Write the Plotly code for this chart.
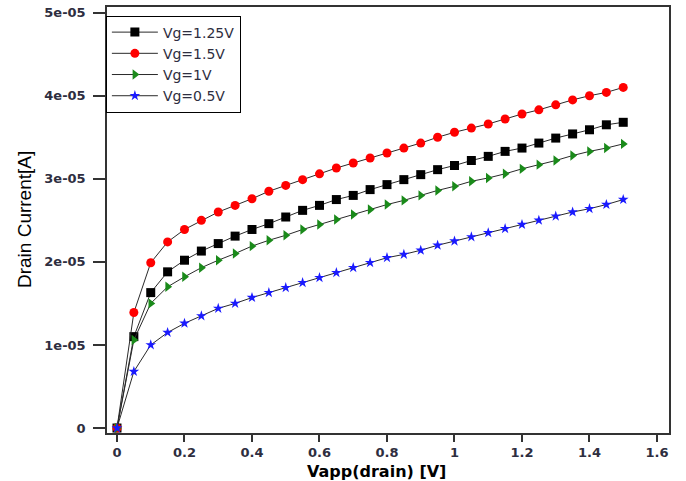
import plotly.graph_objects as go

# Drain voltage sweep (V)
vapp = [round(0.05 * i, 2) for i in range(31)]

# Drain current (units of 1e-5 A) for each gate voltage
id_vg150 = [0, 1.39, 1.99, 2.24, 2.39, 2.50, 2.60, 2.68, 2.76, 2.85, 2.92, 2.99, 3.06, 3.13,
            3.19, 3.25, 3.31, 3.37, 3.43, 3.50, 3.56, 3.61, 3.66, 3.72, 3.78, 3.83, 3.89,
            3.95, 4.00, 4.04, 4.10]
id_vg125 = [0, 1.10, 1.63, 1.88, 2.02, 2.13, 2.22, 2.31, 2.39, 2.46, 2.54, 2.62, 2.68, 2.75,
            2.80, 2.87, 2.93, 2.99, 3.05, 3.11, 3.16, 3.22, 3.27, 3.33, 3.37, 3.43, 3.49,
            3.54, 3.59, 3.65, 3.68]
id_vg100 = [0, 1.06, 1.50, 1.70, 1.82, 1.93, 2.02, 2.10, 2.19, 2.26, 2.32, 2.39, 2.45, 2.51,
            2.57, 2.63, 2.69, 2.74, 2.80, 2.86, 2.91, 2.97, 3.01, 3.06, 3.12, 3.17, 3.22,
            3.28, 3.33, 3.37, 3.42]
id_vg050 = [0, 0.68, 1.00, 1.15, 1.26, 1.35, 1.44, 1.50, 1.57, 1.63, 1.69, 1.75, 1.81, 1.87,
            1.93, 1.99, 2.05, 2.09, 2.14, 2.20, 2.25, 2.30, 2.35, 2.40, 2.45, 2.50, 2.55,
            2.60, 2.64, 2.69, 2.75]

y_tickvals = [0, 1e-5, 2e-5, 3e-5, 4e-5, 5e-5]
y_ticktext = ["0", "1e-05", "2e-05", "3e-05", "4e-05", "5e-05"]
x_tickvals = [0, 0.2, 0.4, 0.6, 0.8, 1.0, 1.2, 1.4, 1.6]
x_ticktext = ["0", "0.2", "0.4", "0.6", "0.8", "1", "1.2", "1.4", "1.6"]

series = [
    ("Vg=1.25V", id_vg125, "black", "square", 9),
    ("Vg=1.5V", id_vg150, "#ff0000", "circle", 9),
    ("Vg=1V", id_vg100, "#1a8a1a", "triangle-right", 9),
    ("Vg=0.5V", id_vg050, "#1a1aff", "star", 8),
]

fig = go.Figure()
for name, vals, color, symbol, size in series:
    fig.add_trace(go.Scatter(
        x=vapp,
        y=[v * 1e-5 for v in vals],
        mode="lines+markers",
        name=name,
        line=dict(color="#2a2a2a", width=1),
        marker=dict(color=color, symbol=symbol, size=size, line=dict(width=0)),
    ))

tick_font = dict(family="DejaVu Sans", size=13, color="#2e2e40", weight="bold")

fig.update_layout(
    width=686,
    height=481,
    margin=dict(l=107, r=17, t=5, b=48),
    paper_bgcolor="white",
    plot_bgcolor="white",
    showlegend=True,
    legend=dict(
        x=-0.002, y=0.98, xanchor="left", yanchor="top",
        bgcolor="white", bordercolor="black", borderwidth=1,
        font=dict(family="DejaVu Sans", size=14, color="#2e2e40"),
        itemwidth=46,
        tracegroupgap=0,
    ),
    xaxis=dict(
        range=[-0.0296, 1.6356],
        tickvals=x_tickvals, ticktext=x_ticktext,
        ticks="outside", ticklen=7, tickwidth=1.5, tickcolor="#333",
        showline=True, linecolor="#333", linewidth=1.5, mirror=True,
        showgrid=False, zeroline=False,
        tickfont=tick_font,
    ),
    yaxis=dict(
        range=[-0.06e-5, 5.068e-5],
        tickvals=y_tickvals, ticktext=y_ticktext,
        ticks="outside", ticklen=12, tickwidth=1.5, tickcolor="#333",
        showline=True, linecolor="#333", linewidth=1.5, mirror=True,
        showgrid=False, zeroline=False,
        tickfont=tick_font,
        ticklabelstandoff=5,
    ),
    annotations=[
        dict(text="Drain Current[A]", xref="paper", yref="paper", x=0, y=0.5,
             xanchor="center", yanchor="middle", xshift=-83, textangle=-90,
             showarrow=False,
             font=dict(family="Liberation Sans", size=19, color="black")),
        dict(text="<b>Vapp(drain) [V]</b>", xref="paper", yref="paper",
             x=(376 - 107) / 562, y=0, xanchor="center", yanchor="top",
             yshift=-27, showarrow=False,
             font=dict(family="DejaVu Sans", size=16, color="black")),
    ],
)

fig.write_html("out.html")
